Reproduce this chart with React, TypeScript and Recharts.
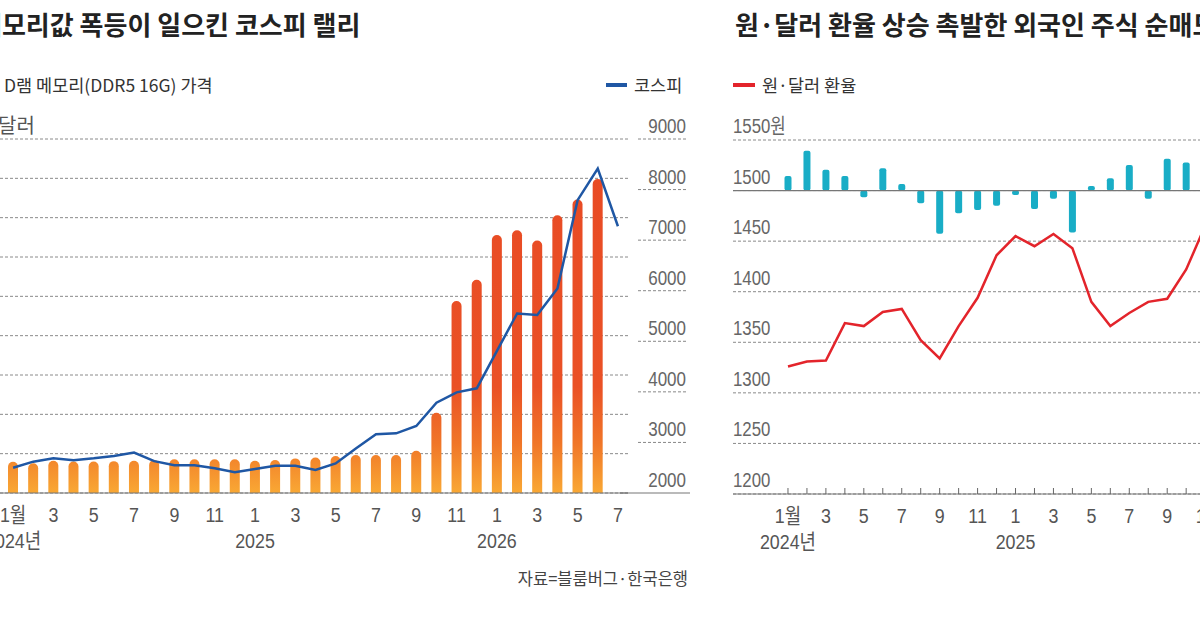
import React from "react"
import {
  ComposedChart,
  Bar,
  Line,
  XAxis,
  YAxis,
  CartesianGrid,
  ReferenceLine,
} from "recharts"

// months Jan 2024 .. Jul 2026
const months = [
  "2024-01", "2024-02", "2024-03", "2024-04", "2024-05", "2024-06",
  "2024-07", "2024-08", "2024-09", "2024-10", "2024-11", "2024-12",
  "2025-01", "2025-02", "2025-03", "2025-04", "2025-05", "2025-06",
  "2025-07", "2025-08", "2025-09", "2025-10", "2025-11", "2025-12",
  "2026-01", "2026-02", "2026-03", "2026-04", "2026-05", "2026-06",
  "2026-07",
]

// D램 DDR5 16G price, dollars
const dramPrice = [
  3.98, 3.77, 4.1, 4.0, 4.0, 4.05, 4.1, 4.2, 4.28, 4.28, 4.28, 4.28,
  4.1, 4.2, 4.4, 4.5, 4.7, 4.83, 4.83, 4.83, 5.38, 10.2, 24.4, 27.1,
  32.8, 33.4, 32.1, 35.3, 37.3, 39.9, null,
]

// 코스피
const kospi = [
  2500, 2620, 2685, 2650, 2685, 2730, 2800, 2630, 2550, 2550, 2490, 2410,
  2475, 2540, 2540, 2455, 2585, 2880, 3160, 3180, 3325, 3785, 3990, 4070,
  4810, 5550, 5520, 6045, 7790, 8415, 7275,
]

// 원·달러 환율 (visible part of the right panel)
const fxRate = [
  1326, 1331, 1332, 1369, 1366, 1380, 1383, 1352, 1334, 1366, 1394, 1436,
  1455, 1445, 1457, 1443, 1390, 1366, 1379, 1390, 1393, 1422, 1465, null,
  null, null, null, null, null, null, null,
]

// 외국인 주식 순매수 (trillion won)
const foreignFlow = [
  1.45, 3.93, 2.05, 1.45, -0.66, 2.21, 0.66, -1.26, -4.28, -2.25, -1.91, -1.51,
  -0.43, -1.81, -0.82, -4.15, 0.46, 1.22, 2.54, -0.82, 3.14, 2.77, null, null,
  null, null, null, null, null, null, null,
]

const dramTicks = [0, 5, 10, 15, 20, 25, 30, 35, 40, 45]
const kospiTicks = [2000, 3000, 4000, 5000, 6000, 7000, 8000, 9000]
const fxTicks = [1200, 1250, 1300, 1350, 1400, 1450, 1500, 1550]
const yearLabels: Record<string, string> = {
  "2024-01": "2024년",
  "2025-01": "2025",
  "2026-01": "2026",
}

const leftData = months.map((m, i) => ({ m, dram: dramPrice[i], kospi: kospi[i] }))
const rightData = months.map((m, i) => ({ m, fx: fxRate[i], flow: foreignFlow[i] }))

const NUM_FONT = '"Liberation Sans", Arial, "Noto Sans CJK KR", sans-serif'

function NarrowText({ x, y, anchor = "middle", size = 21, fill = "#555", sx = 0.8, children }: any) {
  return (
    <text
      transform={`translate(${x},${y}) scale(${sx},1)`}
      textAnchor={anchor}
      fontSize={size}
      fill={fill}
      fontFamily={NUM_FONT}
    >
      {children}
    </text>
  )
}

function makeMonthTick(axisY: number, marks: boolean) {
  return function MonthTick(props: any) {
    const { x, payload } = props
    const key = String(payload.value)
    const mo = Number(key.slice(5))
    const year = yearLabels[key]
    return (
      <g>
        {marks && <line x1={x} x2={x} y1={axisY} y2={axisY - 6} stroke="#666" />}
        {mo % 2 === 1 && (
          <NarrowText x={x} y={axisY + 29} sx={0.85}>
            {key === "2024-01" ? "1월" : String(mo)}
          </NarrowText>
        )}
        {year && (
          <NarrowText x={x} y={axisY + 55} sx={0.85}>
            {year}
          </NarrowText>
        )}
      </g>
    )
  }
}

function KospiTick(props: any) {
  const { y, payload } = props
  const v = payload.value
  return (
    <g>
      {v === 2000 ? (
        <line x1={620} x2={700} y1={y} y2={y} stroke="#777" strokeWidth={1.2} />
      ) : (
        <line x1={638} x2={687} y1={y} y2={y} stroke="#888" strokeDasharray="3 2" />
      )}
      <NarrowText x={686} y={y - 6} anchor="end" size={20} sx={0.85} fill="#666">
        {v}
      </NarrowText>
    </g>
  )
}

function FxTick(props: any) {
  const { y, payload } = props
  const v = payload.value
  return (
    <NarrowText x={8} y={y - 7} anchor="start" size={21} sx={0.8} fill="#666">
      {v === 1550 ? "1550원" : v}
    </NarrowText>
  )
}

const LeftMonthTick = makeMonthTick(493, false)
const RightMonthTick = makeMonthTick(494, true)

export default function App() {
  return (
    <div
      style={{
        position: "fixed",
        left: 0,
        top: 0,
        width: 1200,
        height: 630,
        overflow: "hidden",
        background: "#fff",
        fontFamily: '"Noto Sans CJK KR", "Noto Sans", sans-serif',
      }}
    >
      {/* left panel */}
      <div style={{ position: "absolute", left: 0, top: 0 }}>
        <ComposedChart
          width={690}
          height={630}
          data={leftData}
          margin={{ top: 139, right: 0, bottom: 0, left: 0 }}
        >
          <defs>
            <linearGradient id="dramGrad" gradientUnits="userSpaceOnUse" x1="0" y1="139" x2="0" y2="493">
              <stop offset="0%" stopColor="#e84a24" />
              <stop offset="70%" stopColor="#ea5126" />
              <stop offset="86%" stopColor="#f07628" />
              <stop offset="100%" stopColor="#f9a834" />
            </linearGradient>
          </defs>
          <CartesianGrid
            yAxisId="dram"
            vertical={false}
            stroke="#8a8a8a"
            strokeDasharray="3 2"
          />
          <XAxis
            dataKey="m"
            interval={0}
            height={137}
            padding={{ left: 3, right: 0 }}
            axisLine={{ stroke: "#777", strokeWidth: 1.2 }}
            tickLine={false}
            tick={<LeftMonthTick />}
          />
          <YAxis yAxisId="dram" hide domain={[0, 45]} ticks={dramTicks} />
          <YAxis
            yAxisId="kospi"
            orientation="right"
            width={62}
            domain={[2000, 9000]}
            ticks={kospiTicks}
            axisLine={false}
            tickLine={false}
            tick={<KospiTick />}
          />
          <Bar
            yAxisId="dram"
            dataKey="dram"
            barSize={10}
            radius={[5, 5, 0, 0]}
            fill="url(#dramGrad)"
            isAnimationActive={false}
          />
          <Line
            yAxisId="kospi"
            dataKey="kospi"
            stroke="#1f57a4"
            strokeWidth={2.5}
            dot={false}
            type="linear"
            isAnimationActive={false}
          />
        </ComposedChart>
      </div>

      {/* right panel */}
      <div style={{ position: "absolute", left: 725, top: 0 }}>
        <ComposedChart
          width={700}
          height={630}
          data={rightData}
          margin={{ top: 140, right: 0, bottom: 0, left: 7 }}
        >
          <CartesianGrid
            yAxisId="fx"
            vertical={false}
            stroke="#8a8a8a"
            strokeDasharray="3 2"
          />
          <XAxis
            dataKey="m"
            interval={0}
            height={136}
            padding={{ left: 45.5, right: 58.7 }}
            axisLine={{ stroke: "#777", strokeWidth: 1.2 }}
            tickLine={false}
            tick={<RightMonthTick />}
          />
          <YAxis
            yAxisId="fx"
            width={1}
            domain={[1200, 1550]}
            ticks={fxTicks}
            axisLine={false}
            tickLine={false}
            tick={<FxTick />}
          />
          <YAxis yAxisId="flow" hide domain={[-30, 5]} />
          <ReferenceLine yAxisId="fx" y={1500} stroke="#777" strokeWidth={1.2} />
          <Bar
            yAxisId="flow"
            dataKey="flow"
            barSize={7}
            radius={2}
            fill="#19adc6"
            isAnimationActive={false}
          />
          <Line
            yAxisId="fx"
            dataKey="fx"
            stroke="#e3242b"
            strokeWidth={2.5}
            dot={false}
            type="linear"
            isAnimationActive={false}
          />
        </ComposedChart>
      </div>

      {/* titles */}
      <div
        style={{
          position: "absolute", left: -22, top: 9, fontSize: 26, lineHeight: "30px",
          fontWeight: 700, color: "#222", whiteSpace: "nowrap",
        }}
      >
        메모리값 폭등이 일으킨 코스피 랠리
      </div>
      <div
        style={{
          position: "absolute", left: 735, top: 9, fontSize: 26, lineHeight: "30px",
          fontWeight: 700, color: "#222", whiteSpace: "nowrap",
        }}
      >
        원·달러 환율 상승 촉발한 외국인 주식 순매도
      </div>

      {/* left legend */}
      <div
        style={{
          position: "absolute", left: 4, top: 74, fontSize: 17.5, lineHeight: "22px",
          color: "#333", whiteSpace: "nowrap",
        }}
      >
        D램 메모리(DDR5 16G) 가격
      </div>
      <div style={{ position: "absolute", left: 606, top: 83, width: 21, height: 4, background: "#1f57a4" }} />
      <div
        style={{
          position: "absolute", left: 634, top: 74, fontSize: 17.5, lineHeight: "22px",
          color: "#333", whiteSpace: "nowrap",
        }}
      >
        코스피
      </div>
      <div
        style={{
          position: "absolute", left: -2, top: 113, fontSize: 20, lineHeight: "24px",
          color: "#555", whiteSpace: "nowrap",
        }}
      >
        달러
      </div>

      {/* right legend */}
      <div style={{ position: "absolute", left: 733, top: 83, width: 22, height: 4, background: "#e3242b" }} />
      <div
        style={{
          position: "absolute", left: 762, top: 74, fontSize: 17.5, lineHeight: "22px",
          color: "#333", whiteSpace: "nowrap",
        }}
      >
        원·달러 환율
      </div>

      {/* source */}
      <div
        style={{
          position: "absolute", left: 388, width: 300, top: 568, fontSize: 16.5, lineHeight: "20px",
          color: "#444", textAlign: "right", whiteSpace: "nowrap",
        }}
      >
        자료=블룸버그·한국은행
      </div>
    </div>
  )
}
